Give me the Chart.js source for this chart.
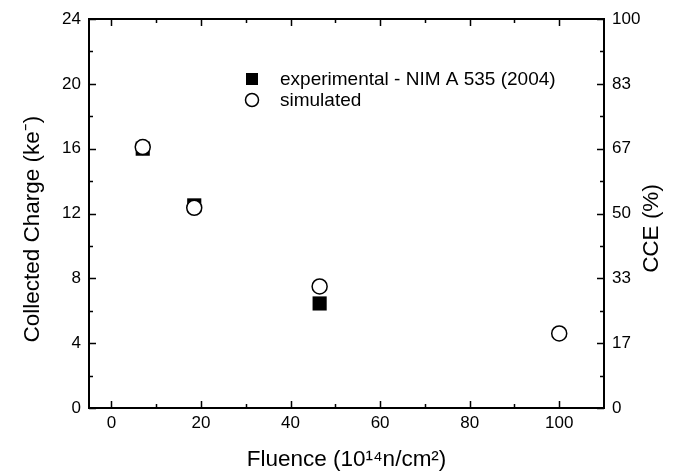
<!DOCTYPE html>
<html>
<head>
<meta charset="utf-8">
<script src="https://cdn.jsdelivr.net/npm/chart.js@4"></script>
<style>
  html, body { margin: 0; padding: 0; background: #fff; }
  #wrap { width: 682px; height: 473px; }
</style>
</head>
<body>
<div id="wrap"><canvas id="c" width="682" height="473"></canvas></div>
<script>
// ---- data ----
const expFluence = [7, 18.5, 46.5];
const expCharge = [16.0, 12.5, 6.45];
const simFluence = [7, 18.5, 46.5, 100];
const simCharge = [16.1, 12.35, 7.5, 4.6];

const fluenceTicks = [0, 20, 40, 60, 80, 100];
const fluenceMinorTicks = [10, 30, 50, 70, 90];
const chargeTicks = [0, 4, 8, 12, 16, 20, 24];
const chargeMinorTicks = [2, 6, 10, 14, 18, 22];
const cceTicks = [0, 100/6, 200/6, 300/6, 400/6, 500/6, 100];
const cceTickLabels = ['0', '17', '33', '50', '67', '83', '100'];

const expLabel = 'experimental - NIM A 535 (2004)';
const simLabel = 'simulated';
const cceTitle = 'CCE (%)';

const FONT = "'Liberation Sans', Arial, sans-serif";

const framePlugin = {
  id: 'frame',
  afterDatasetsDraw(chart) {
    const ctx = chart.ctx;
    const a = chart.chartArea;
    const xs = chart.scales.x, ys = chart.scales.y, y2 = chart.scales.y2;
    ctx.save();
    ctx.strokeStyle = '#000';
    ctx.lineWidth = 2;
    ctx.strokeRect(a.left, a.top, a.right - a.left, a.bottom - a.top);
    ctx.lineWidth = 1.5;
    const major = 7, minor = 4;
    ctx.beginPath();
    const xt = (v, len) => {
      const p = Math.round(xs.getPixelForValue(v)) + 0.5;
      ctx.moveTo(p, a.bottom); ctx.lineTo(p, a.bottom - len);
      ctx.moveTo(p, a.top); ctx.lineTo(p, a.top + len);
    };
    const yt = (v, len) => {
      const p = Math.round(ys.getPixelForValue(v)) + 0.5;
      ctx.moveTo(a.left, p); ctx.lineTo(a.left + len, p);
      ctx.moveTo(a.right, p); ctx.lineTo(a.right - len, p);
    };
    fluenceTicks.forEach(v => xt(v, major));
    fluenceMinorTicks.forEach(v => xt(v, minor));
    chargeTicks.forEach(v => yt(v, major));
    chargeMinorTicks.forEach(v => yt(v, minor));
    ctx.stroke();

    // right axis title, reading bottom-to-top as in the reference
    ctx.save();
    ctx.translate(652, (y2.top + y2.bottom) / 2 + 15);
    ctx.rotate(-Math.PI / 2);
    ctx.font = '22.5px ' + FONT;
    ctx.fillStyle = '#000';
    ctx.textAlign = 'center';
    ctx.textBaseline = 'middle';
    ctx.fillText(cceTitle, 0, 0);
    ctx.restore();

    // legend inside plot
    const ds = chart.data.datasets;
    const exp = ds.find(d => d.label === expLabel);
    const sim = ds.find(d => d.label === simLabel);
    const lx = 252, textX = 280;
    const ly1 = 79, ly2 = 100;
    ctx.fillStyle = exp.backgroundColor;
    ctx.fillRect(lx - 6, ly1 - 6, 12, 12);
    ctx.beginPath();
    ctx.arc(lx, ly2, 6.5, 0, Math.PI * 2);
    ctx.fillStyle = sim.backgroundColor;
    ctx.fill();
    ctx.lineWidth = 1.5;
    ctx.strokeStyle = sim.borderColor;
    ctx.stroke();
    ctx.fillStyle = '#000';
    ctx.font = '19px ' + FONT;
    ctx.textBaseline = 'middle';
    ctx.textAlign = 'left';
    ctx.fillText(exp.label, textX, ly1 + 1);
    ctx.fillText(sim.label, textX, ly2 + 1);
    ctx.restore();
  }
};

const tickFont = { family: FONT, size: 17 };
const titleFont = { family: FONT, size: 22.5 };

new Chart(document.getElementById('c'), {
  type: 'scatter',
  data: {
    datasets: [
      {
        label: simLabel,
        data: simFluence.map((x, i) => ({ x, y: simCharge[i] })),
        pointStyle: 'circle',
        pointRadius: 7.5,
        pointHoverRadius: 7.5,
        backgroundColor: '#fff',
        borderColor: '#000',
        borderWidth: 1.5,
        order: 0
      },
      {
        label: expLabel,
        data: expFluence.map((x, i) => ({ x, y: expCharge[i] })),
        pointStyle: 'rect',
        pointRadius: 10,
        pointHoverRadius: 10,
        backgroundColor: '#000',
        borderColor: '#000',
        borderWidth: 0,
        order: 1
      }
    ]
  },
  options: {
    responsive: false,
    animation: false,
    events: [],
    layout: { padding: { top: 19, left: 0, right: 0, bottom: 0 } },
    plugins: { legend: { display: false }, tooltip: { enabled: false } },
    scales: {
      x: {
        type: 'linear', position: 'bottom', min: -5, max: 110,
        afterBuildTicks: s => { s.ticks = fluenceTicks.map(v => ({ value: v })); },
        afterFit: s => { s.height = 65; },
        grid: { display: false, drawTicks: false },
        border: { display: false },
        ticks: { font: tickFont, color: '#000', padding: 5, maxRotation: 0 },
        title: { display: true, text: 'Fluence (10\u00B9\u2074n/cm\u00B2)', font: titleFont, color: '#000', padding: { top: 0, bottom: 0 } }
      },
      y: {
        type: 'linear', position: 'left', min: 0, max: 24,
        afterBuildTicks: s => { s.ticks = chargeTicks.map(v => ({ value: v })); },
        afterFit: s => { s.width = 89; },
        grid: { display: false, drawTicks: false },
        border: { display: false },
        ticks: { font: tickFont, color: '#000', padding: 8 },
        title: { display: true, text: 'Collected Charge (ke\u207B)     ', font: titleFont, color: '#000', padding: { top: 19, bottom: 0 } }
      },
      y2: {
        type: 'linear', position: 'right', min: 0, max: 100,
        afterBuildTicks: s => { s.ticks = cceTicks.map(v => ({ value: v })); },
        afterFit: s => { s.width = 78; },
        grid: { display: false, drawTicks: false },
        border: { display: false },
        ticks: { font: tickFont, color: '#000', padding: 8,
          callback: (v, i) => cceTickLabels[i] },
        title: { display: false }
      }
    }
  },
  plugins: [framePlugin]
});
</script>
</body>
</html>
